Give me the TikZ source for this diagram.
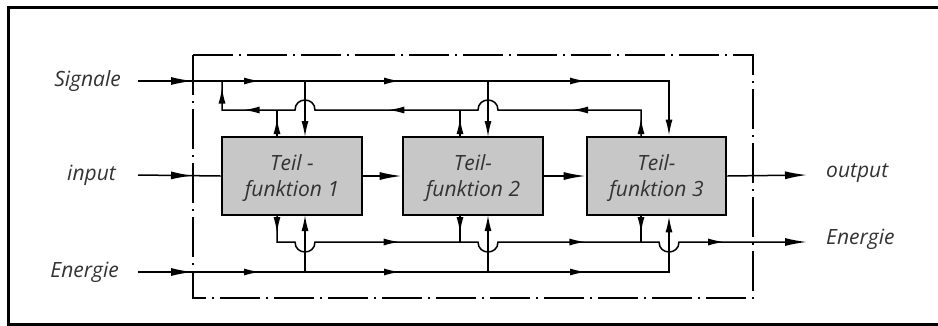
\documentclass[tikz,border=0pt]{standalone}
\usepackage{fontspec}
\setmainfont{Open Sans}
\usetikzlibrary{arrows.meta,decorations.markings}
\tikzset{
  bigtip/.tip={Latex[length=22pt,width=8pt]},
  smalltip/.tip={Latex[length=16pt,width=7pt]},
  ln/.style={line width=1.5pt},
  ma/.style={postaction={decorate,decoration={markings,mark=at position #1 with {\arrow{smalltip}}}}},
  mb/.style={postaction={decorate,decoration={markings,mark=at position #1 with {\arrow{bigtip}}}}},
  fbox/.style={draw,line width=2.8pt,fill=black!22,minimum width=140pt,minimum height=78pt,
    inner sep=0pt,align=center,text=black!80,font=\fontsize{21}{26}\selectfont\itshape},
  lbl/.style={inner sep=0pt,text=black!80,font=\fontsize{21}{24}\selectfont\itshape},
  sysb/.style={line width=1.3pt,dash pattern=on 40pt off 6pt on 2pt off 6pt}
}
\begin{document}
\begin{tikzpicture}[x=1pt,y=-1pt]
\useasboundingbox (0,0) rectangle (938,325);
% frame
\draw[line width=3pt] (938,7) -- (8,7) -- (8,324) -- (938,324);
% system boundary
\draw[sysb] (193,55) rectangle (753,298);
% boxes
\node[fbox] (b1) at (292,176) {};
\node[fbox] (b2) at (473,176) {};
\node[fbox,minimum width=139pt] (b3) at (656.5,176) {};
\node[align=center,text=black!80,font=\fontsize{21}{26}\selectfont\itshape] (t1) at (292,178) {Teil -\\funktion 1};
\node[align=center,text=black!80,font=\fontsize{21}{26}\selectfont\itshape] (t2) at (473,178) {Teil-\\funktion 2};
\node[align=center,text=black!80,font=\fontsize{21}{26}\selectfont\itshape] (t3) at (656.5,178) {Teil-\\funktion 3};
% labels
\node[lbl,anchor=east] (tsig) at (121,81) {Signale};
\node[lbl,anchor=east] (tin) at (116,175) {input};
\node[lbl,anchor=east] (ten) at (119,272) {Energie};
\node[lbl,anchor=west] (tout) at (826,173) {output};
\node[lbl,anchor=west] (tenout) at (826,239) {Energie};
% coordinates
\coordinate (sigin) at (138,81);
\coordinate (inin) at (138,175);
\coordinate (enin) at (138,272);
\coordinate (outend) at (807,175);
\coordinate (enoutend) at (807,242);
\coordinate (s3) at (669,81);
\coordinate (e3) at (669,272);
% signal line
\draw[ln,mb=55pt,ma=122pt,ma=262pt,ma=448pt,-{smalltip}] (sigin) -- (s3) -- (s3 |- b3.north);
\draw[ln,-{smalltip}] (305,81) -- (305,137);
\draw[ln,-{smalltip}] (488,81) -- (488,137);
% feedback line with hops
\draw[ln,ma=19pt,ma=96pt,ma=291.4pt,ma=447.8pt,ma=491.8pt]
  (641,137) -- (641,110) -- (498,110) .. controls (498,96.7) and (478,96.7) .. (478,110)
  -- (315,110) .. controls (315,96.7) and (295,96.7) .. (295,110)
  -- (222,110) -- (222,81);
\draw[ln,ma=19pt] (277,137) -- (277,110);
\draw[ln,ma=19pt] (460,137) -- (460,110);
% input / flow
\draw[ln,mb=55pt] (inin) -- (b1.west);
\draw[ln,-{bigtip}] (b1.east) -- (b2.west);
\draw[ln,-{bigtip}] (b2.east) -- (b3.west);
\draw[ln,-{bigtip}] (b3.east) -- (outend);
% energy in
\draw[ln,mb=55pt,ma=122pt,ma=262pt,ma=448pt,-{smalltip}] (enin) -- (e3) -- (e3 |- b3.south);
\draw[ln,-{smalltip}] (305,272) -- (305,215);
\draw[ln,-{smalltip}] (488,272) -- (488,215);
% energy out with hops
\draw[ln,ma=18pt,ma=161.4pt,ma=358.8pt,ma=509.2pt,-{bigtip}]
  (277,215) -- (277,242) -- (295,242) .. controls (295,255.3) and (315,255.3) .. (315,242)
  -- (478,242) .. controls (478,255.3) and (498,255.3) .. (498,242)
  -- (659,242) .. controls (659,255.3) and (679,255.3) .. (679,242)
  -- (enoutend);
\draw[ln,ma=18pt] (460,215) -- (460,242);
\draw[ln,ma=18pt] (641,215) -- (641,242);
\end{tikzpicture}
\end{document}
